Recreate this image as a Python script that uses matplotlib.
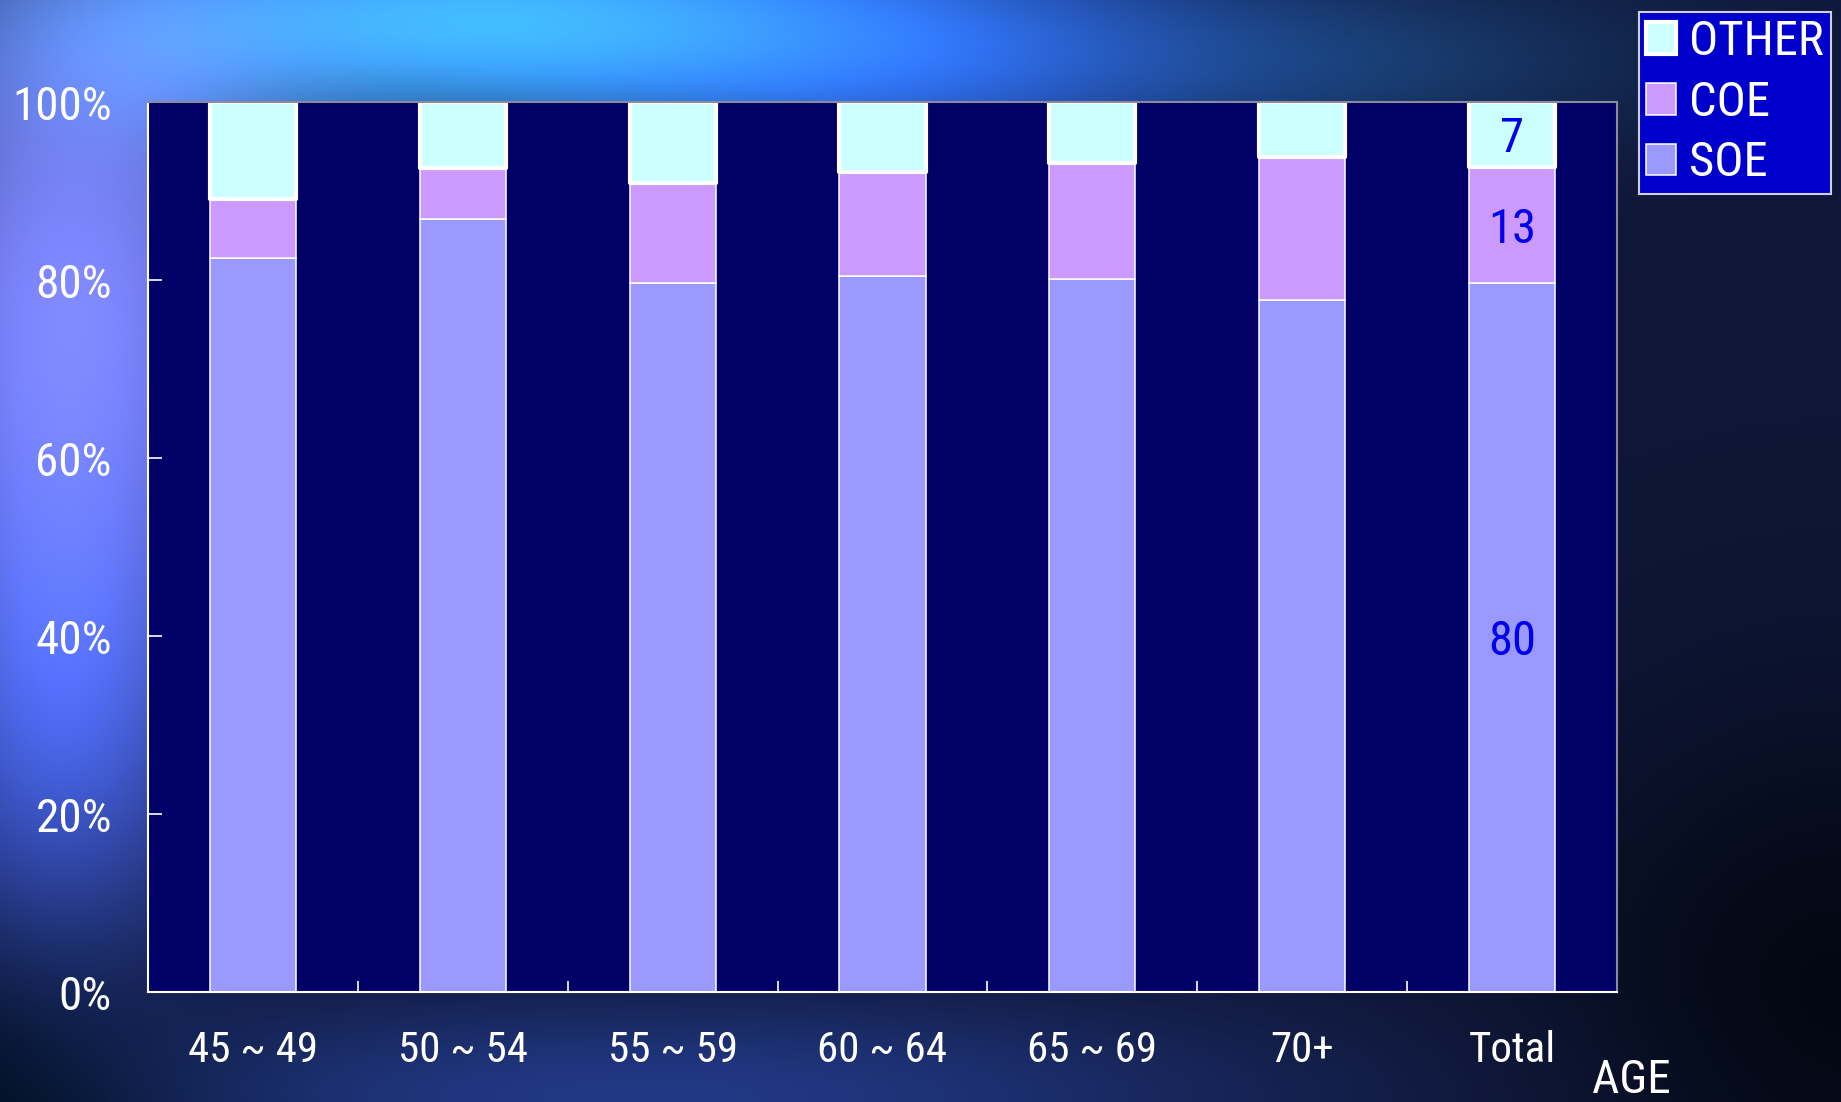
import numpy as np
import matplotlib
matplotlib.use('Agg')
import matplotlib.pyplot as plt
from matplotlib.ticker import FixedLocator

plt.rcParams['font.family'] = ['Roboto Condensed', 'Liberation Sans', 'DejaVu Sans']

# data (percent)
categories = ['45 ~ 49', '50 ~ 54', '55 ~ 59', '60 ~ 64', '65 ~ 69', '70+', 'Total']
soe = [82.5, 86.8, 79.7, 80.5, 80.1, 77.8, 79.7]
coe = [6.6, 5.8, 11.2, 11.6, 13.0, 16.0, 13.0]
other = [10.9, 7.4, 9.1, 7.9, 6.9, 6.2, 7.3]
total_labels = ['80', '13', '7']
yticks = [0, 20, 40, 60, 80, 100]

W, H = 1841, 1102
fig = plt.figure(figsize=(W / 100, H / 100), dpi=100)

# background: dark navy with bright blue/cyan glow at top-left
yy, xx = np.mgrid[0:H:2, 0:W:2]
img = np.zeros(xx.shape + (3,))
img[:] = (0.06, 0.09, 0.22)
def blob(cx, cy, sx, sy, col):
    g = np.exp(-(((xx - cx) / sx) ** 2 + ((yy - cy) / sy) ** 2))
    for i in range(3):
        img[..., i] += g * col[i]
blob(70, 300, 220, 380, (0.44, 0.44, 0.78))
blob(460, 20, 380, 110, (0.18, 0.60, 0.78))
blob(900, 50, 320, 120, (0.10, 0.25, 0.60))
blob(60, 720, 150, 250, (0.12, 0.20, 0.50))
blob(650, 1095, 600, 100, (0.07, 0.13, 0.30))
blob(1350, 60, 320, 90, (0.03, 0.13, 0.18))
blob(0, 1100, 200, 150, (-0.08, -0.08, -0.2))
blob(1841, 1000, 300, 300, (-0.05, -0.06, -0.15))
img = np.clip(img, 0, 1)
bg = fig.add_axes([0, 0, 1, 1], zorder=-10)
bg.imshow(img, aspect='auto', extent=(0, 1, 0, 1), interpolation='bicubic')
bg.axis('off')

ax = fig.add_axes([148 / W, 1 - 992 / H, 1469 / W, 890 / H])
ax.set_facecolor('#000066')
x = np.arange(len(categories))
w = 0.41
bottom2 = [a + b for a, b in zip(soe, coe)]
b_soe = ax.bar(x, soe, w, color='#9999FF', edgecolor='white', linewidth=1.1, label='SOE')
b_coe = ax.bar(x, coe, w, bottom=soe, color='#CC99FF', edgecolor='white', linewidth=1.1, label='COE')
b_oth = ax.bar(x, other, w, bottom=bottom2, color='#CCFFFF', edgecolor='white', linewidth=3.0,
               joinstyle='round', label='OTHER')

# value labels on Total bar
i = len(categories) - 1
mids = [soe[i] / 2, soe[i] + coe[i] / 2, bottom2[i] + other[i] / 2]
for m, t in zip(mids, total_labels):
    ax.text(x[i], m, t, ha='center', va='center_baseline', color='#0000EE', fontsize=35)

ax.set_xlim(-0.5, 6.5)
ax.set_ylim(0, 100)
ax.set_yticks(yticks)
ax.set_yticklabels([f'{v}%' for v in yticks])
ax.set_xticks(x)
ax.set_xticklabels(categories)
ax.xaxis.set_minor_locator(FixedLocator(np.arange(0.5, 6.5, 1)))
ax.tick_params(axis='y', direction='in', length=10, width=1.2, color='white',
               labelcolor='white', labelsize=34, pad=26)
ax.tick_params(axis='x', which='major', length=0, labelcolor='white', labelsize=31, pad=27)
ax.tick_params(axis='x', which='minor', direction='in', length=8, width=1.2, color='white')
for s in ['left', 'bottom']:
    ax.spines[s].set_color('white')
    ax.spines[s].set_linewidth(1.5)
for s in ['top', 'right']:
    ax.spines[s].set_color('#8a8a9a')
    ax.spines[s].set_linewidth(1.5)

fig.text(1592 / W, 1 - 1080 / H, 'AGE', color='white', fontsize=34, va='center', ha='left')

leg = fig.legend(handles=[b_oth, b_coe, b_soe], labels=['OTHER', 'COE', 'SOE'],
                 loc='upper left', bbox_to_anchor=(1639 / W, 1 - 12 / H), borderaxespad=0,
                 fontsize=35, frameon=True, fancybox=False, facecolor='#0000CC',
                 edgecolor='#d0d0e0', framealpha=1, handlelength=0.62, handleheight=0.62,
                 handletextpad=0.25, borderpad=0.15, labelspacing=0.3)
leg.get_frame().set_linewidth(1.5)
for t in leg.get_texts():
    t.set_color('white')

fig.savefig('out.png', dpi=100)
